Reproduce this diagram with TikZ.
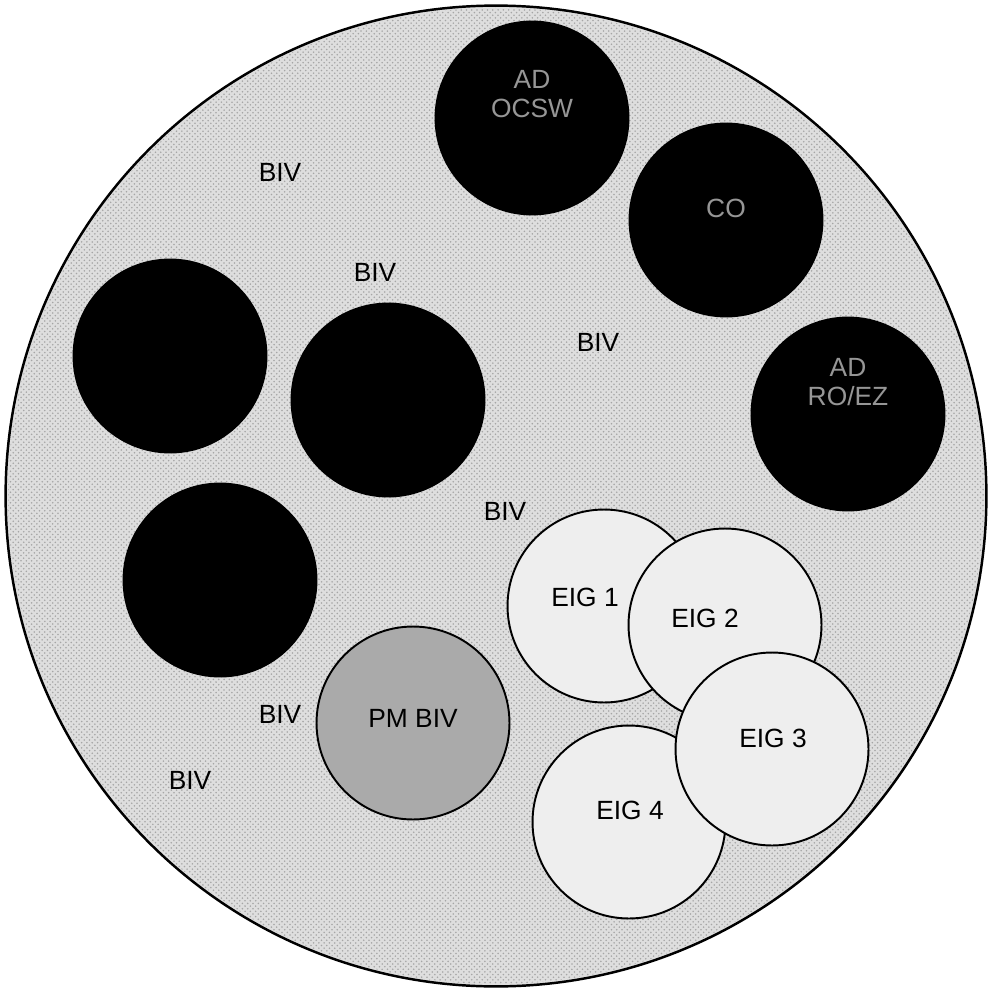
\documentclass[tikz,border=0pt]{standalone}
\usepackage{fontspec}
\setmainfont{Liberation Sans}
\usetikzlibrary{patterns}
\definecolor{plategrey}{RGB}{222,222,222}
\definecolor{eiggrey}{RGB}{238,238,238}
\definecolor{pmgrey}{RGB}{170,170,170}
\definecolor{inkgrey}{RGB}{150,150,150}

\begin{document}
\begin{tikzpicture}[x=0.02cm,y=-0.02cm,line cap=round,
  disc/.style={circle,draw=black,line width=1.1pt,minimum size=3.86cm,inner sep=0pt},
  lab/.style={font=\fontsize{15}{17}\selectfont,align=center}]
  \useasboundingbox (0,0) rectangle (992,993);
  % the plate
  \node[circle,draw=black,line width=1.4pt,fill=plategrey,minimum size=19.62cm,inner sep=0pt] (plate) at (496,496) {};
  \fill[pattern=crosshatch dots,pattern color=gray!70] (plate.center) circle (488);
  % dark discs
  \foreach \n/\p in {ocsw/{(532,118)},co/{(726,220)},roez/{(848,414)},b1/{(170,356)},b2/{(388,400)},b3/{(220,580)}}{
    \node[disc,fill=black] (\n) at \p {};}
  \node[lab,text=inkgrey] (tocsw) at (532,94) {AD\\OCSW};
  \node[lab,text=inkgrey] (tco) at (726,208) {CO};
  \node[lab,text=inkgrey] (troez) at (848,382) {AD\\RO/EZ};
  % PM BIV
  \node[disc,fill=pmgrey] (pm) at (413,723) {};
  \node[lab] (tpm) at (413,718) {PM BIV};
  % EIG discs, later ones lie on top
  \foreach \n/\p/\t/\q in {e1/{(604,606)}/EIG 1/{(585,597)},e2/{(725,625)}/EIG 2/{(705,618)},e4/{(629,822)}/EIG 4/{(630,810)},e3/{(772,749)}/EIG 3/{(773,738)}}{
    \node[disc,fill=eiggrey] (\n) at \p {};
    \node[lab] (t\n) at \q {\t};}
  % BIV labels
  \foreach \i/\p in {1/{(280,172)},2/{(375,272)},3/{(598,342)},4/{(505,511)},5/{(280,714)},6/{(190,780)}}{
    \node[lab] (biv\i) at \p {BIV};}
\end{tikzpicture}
\end{document}
